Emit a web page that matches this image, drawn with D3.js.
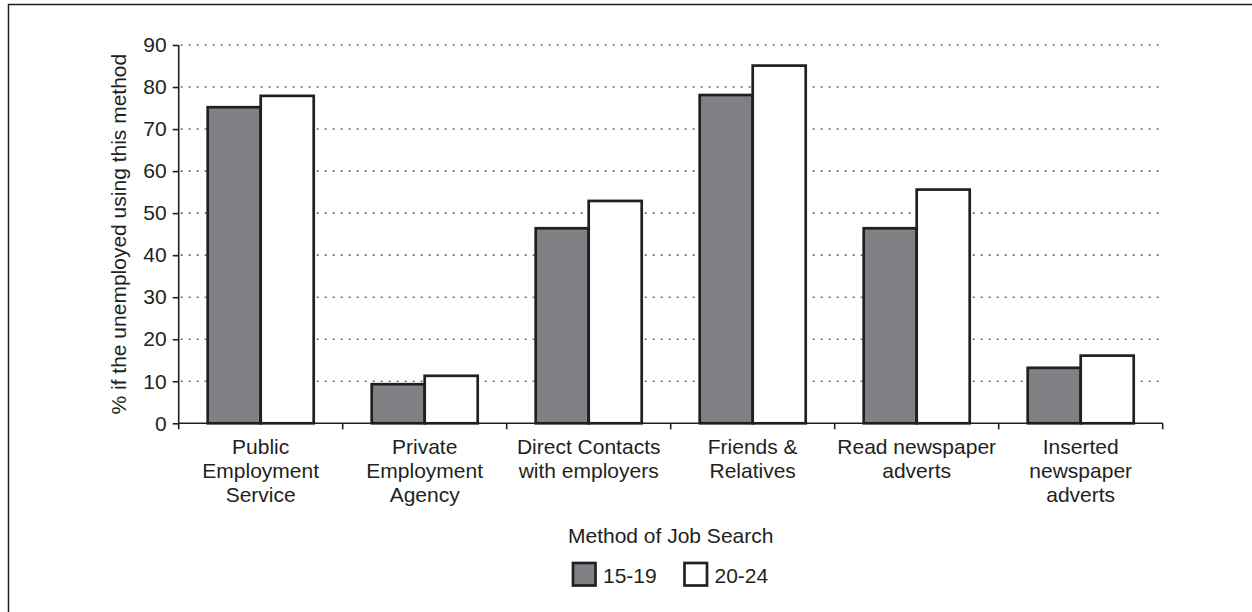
<!DOCTYPE html>
<html>
<head>
<meta charset="utf-8">
<script src="https://cdn.jsdelivr.net/npm/d3@7"></script>
<style>
  html, body { margin: 0; padding: 0; background: #fff; }
  svg { display: block; font-family: "Liberation Sans", Arial, sans-serif; }
</style>
</head>
<body>
<svg id="chart" width="1252" height="612"></svg>
<script>
// Job search methods among the unemployed, by age group
const categories = [
  ["Public", "Employment", "Service"],
  ["Private", "Employment", "Agency"],
  ["Direct Contacts", "with employers"],
  ["Friends &", "Relatives"],
  ["Read newspaper", "adverts"],
  ["Inserted", "newspaper", "adverts"]
];
const seriesNames = ["15-19", "20-24"];
const age15to19 = [75.2, 9.3, 46.4, 78.1, 46.4, 13.2];
const age20to24 = [77.9, 11.3, 52.9, 85.1, 55.6, 16.1];
const yTicks = [0, 10, 20, 30, 40, 50, 60, 70, 80, 90];

const ink = "#231f20";
const fills = ["#808184", "#ffffff"];
const values = [age15to19, age20to24];
const fontSize = 21;

const svg = d3.select("#chart");
const plotLeft = 178.7, plotRight = 1162.7, plotTop = 45, plotBottom = 423.3;

// outer frame (top and left edges visible)
svg.append("path")
  .attr("d", `M8.5,612 V4.5 H1252`)
  .attr("fill", "none").attr("stroke", ink).attr("stroke-width", 1.5);

const x = d3.scaleBand().domain(d3.range(categories.length)).range([plotLeft, plotRight]);
const xs = d3.scaleBand().domain([0, 1]).range([0, x.bandwidth()]).paddingInner(0).paddingOuter(0.547);
const y = d3.scaleLinear().domain([0, 90]).range([plotBottom, plotTop]);

// dotted gridlines
svg.append("g").selectAll("line").data(yTicks.filter(d => d > 0)).join("line")
  .attr("x1", plotLeft + 2).attr("x2", plotRight)
  .attr("y1", d => y(d)).attr("y2", d => y(d))
  .attr("stroke", "#6d6e71").attr("stroke-width", 1.6)
  .attr("stroke-dasharray", "2,6");

// bars
const groups = svg.append("g").selectAll("g").data(categories).join("g")
  .attr("transform", (d, i) => `translate(${x(i)},0)`);
groups.selectAll("rect").data((d, i) => values.map((s, k) => ({k, v: s[i]}))).join("rect")
  .attr("x", d => xs(d.k))
  .attr("width", xs.bandwidth())
  .attr("y", d => y(d.v))
  .attr("height", d => y(0) - y(d.v))
  .attr("fill", d => fills[d.k])
  .attr("stroke", ink).attr("stroke-width", 2.7);

// y axis
const yAxis = svg.append("g").attr("transform", `translate(${plotLeft},0)`)
  .call(d3.axisLeft(y).tickValues(yTicks).tickSize(6).tickPadding(6));
yAxis.select(".domain").attr("stroke", ink).attr("stroke-width", 1.6).attr("d", `M0,${plotTop}V${plotBottom}`);
yAxis.selectAll(".tick line").attr("stroke", ink).attr("stroke-width", 1.6);
yAxis.selectAll(".tick text").attr("fill", ink).attr("font-size", fontSize)
  .attr("font-family", "Liberation Sans, Arial, sans-serif");

// x axis: baseline with ticks at band boundaries
const xAxisG = svg.append("g");
xAxisG.append("line").attr("x1", plotLeft).attr("x2", plotRight).attr("y1", plotBottom).attr("y2", plotBottom)
  .attr("stroke", ink).attr("stroke-width", 1.6);
xAxisG.selectAll("line.tk").data(d3.range(categories.length + 1)).join("line").attr("class", "tk")
  .attr("x1", i => plotLeft + i * x.step()).attr("x2", i => plotLeft + i * x.step())
  .attr("y1", plotBottom).attr("y2", plotBottom + 6)
  .attr("stroke", ink).attr("stroke-width", 1.6);

// category labels
const labels = svg.append("g").selectAll("text").data(categories).join("text")
  .attr("x", (d, i) => x(i) + x.bandwidth() / 2)
  .attr("y", 454)
  .attr("text-anchor", "middle").attr("fill", ink).attr("font-size", fontSize);
labels.selectAll("tspan").data(d => d).join("tspan")
  .attr("x", function() { return d3.select(this.parentNode).attr("x"); })
  .attr("dy", (d, j) => j === 0 ? 0 : 24)
  .text(d => d);

// axis titles
svg.append("text").attr("x", (plotLeft + plotRight) / 2).attr("y", 543)
  .attr("text-anchor", "middle").attr("fill", ink).attr("font-size", fontSize)
  .text("Method of Job Search");
svg.append("text").attr("transform", `translate(125.5,${(plotTop + plotBottom) / 2}) rotate(-90)`)
  .attr("text-anchor", "middle").attr("fill", ink).attr("font-size", fontSize)
  .text("% if the unemployed using this method");

// legend
const legendX = [573, 684.5];
const legend = svg.append("g").selectAll("g").data(seriesNames).join("g")
  .attr("transform", (d, i) => `translate(${legendX[i]},563)`);
legend.append("rect").attr("width", 22.5).attr("height", 22.5)
  .attr("fill", (d, i) => fills[i]).attr("stroke", ink).attr("stroke-width", 2.7);
legend.append("text").attr("x", 30).attr("y", 19.5)
  .attr("fill", ink).attr("font-size", fontSize).text(d => d);
</script>
</body>
</html>
